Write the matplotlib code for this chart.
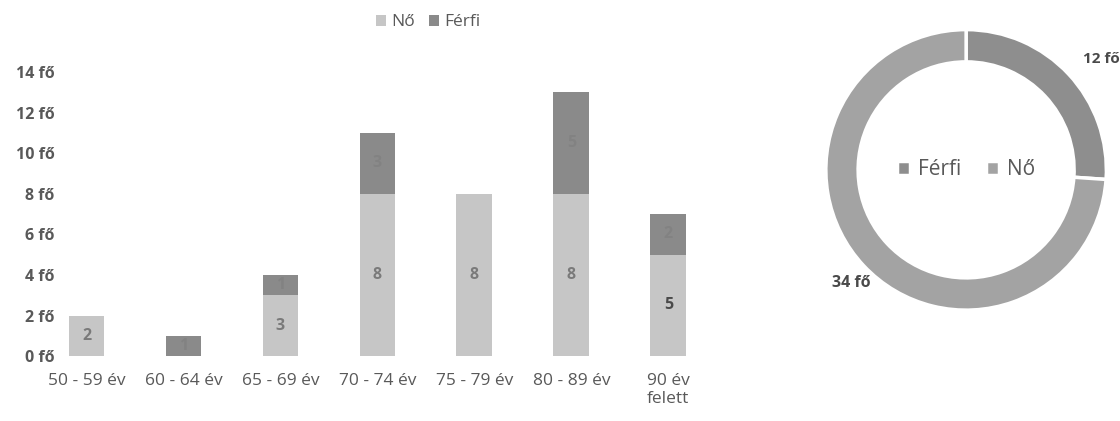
import matplotlib.pyplot as plt

# data
categories = ["50 - 59 év", "60 - 64 év", "65 - 69 év", "70 - 74 év",
              "75 - 79 év", "80 - 89 év", "90 év\nfelett"]
no = [2, 0, 3, 8, 8, 8, 5]
ferfi = [0, 1, 1, 3, 0, 5, 2]
yticks = [0, 2, 4, 6, 8, 10, 12, 14]

donut_labels = ["Férfi", "Nő"]
donut_values = [sum(ferfi), sum(no)]

light = "#c6c6c6"
dark = "#8a8a8a"
txt = "#595959"

plt.rcParams['font.family'] = ['Open Sans', 'DejaVu Sans']

fig = plt.figure(figsize=(11.2, 4.21), dpi=100)

# stacked bars
ax = fig.add_axes([0.034, 0.154, 0.606, 0.675])
x = range(len(categories))
b1 = ax.bar(x, no, width=0.37, color=light, label="Nő")
b2 = ax.bar(x, ferfi, width=0.37, bottom=no, color=dark, label="Férfi")

for i, v in enumerate(no):
    if v > 0:
        ax.text(i, v / 2, str(v), ha="center", va="center", fontsize=11.5,
                fontweight="bold", color="#4a4a4a" if v == 5 else "#7a7a7a")
for i, v in enumerate(ferfi):
    if v > 0:
        ax.text(i, no[i] + v / 2, str(v), ha="center", va="center", fontsize=11.5,
                fontweight="bold", color="#828282")

ax.set_ylim(0, 14)
ax.set_xlim(-0.5, len(categories) - 0.5)
ax.set_yticks(yticks)
ax.set_yticklabels([f"{t} fő" for t in yticks], fontweight="bold")
ax.set_xticks(list(x))
ax.set_xticklabels(categories)
ax.tick_params(axis="y", length=0, labelsize=11.5, labelcolor=txt, pad=-12)
ax.tick_params(axis="x", length=0, labelsize=12.5, labelcolor=txt, pad=12)
for s in ax.spines.values():
    s.set_visible(False)
ax.legend(handles=[b1, b2], loc="center", bbox_to_anchor=(0.575, 1.175),
          ncol=2, frameon=False, fontsize=12.5, labelcolor=txt,
          handlelength=0.6, handleheight=0.6, handletextpad=0.3, columnspacing=0.8)

# donut
ax2 = fig.add_axes([0.7286, 0.24, 0.268, 0.713])
wedges, _ = ax2.pie(donut_values, colors=["#8e8e8e", "#a3a3a3"], startangle=90,
                    counterclock=False,
                    wedgeprops=dict(width=0.23, edgecolor="white", linewidth=2.5))
ax2.set_xlim(-1.07, 1.07)
ax2.set_ylim(-1.07, 1.07)
ax2.set_aspect("equal")
ax2.axis("off")
ax2.text(0.83, 0.79, f"{donut_values[0]} fő", fontsize=11, fontweight="bold",
         color="#4a4a4a", ha="left", va="center")
ax2.text(-0.68, -0.81, f"{donut_values[1]} fő", fontsize=11.5, fontweight="bold",
         color="#4a4a4a", ha="right", va="center")
ax2.legend(wedges, donut_labels, loc="center", ncol=2, frameon=False,
           fontsize=15, labelcolor=txt, handlelength=0.6, handleheight=0.6,
           handletextpad=0.4, columnspacing=1.2)

fig.savefig("out.png", dpi=100)
